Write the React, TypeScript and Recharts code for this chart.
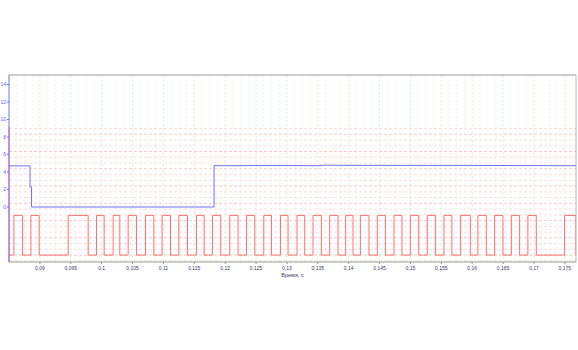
import React from 'react';
import { LineChart, Line, XAxis, YAxis, ReferenceLine } from 'recharts';

// Time axis (seconds) and its labelled ticks
const xDomain: [number, number] = [0.085, 0.1768];
const xTicks = [
  0.09, 0.095, 0.1, 0.105, 0.11, 0.115, 0.12, 0.125, 0.13,
  0.135, 0.14, 0.145, 0.15, 0.155, 0.16, 0.165, 0.17, 0.175,
];

// Blue channel (left axis, labelled)
const blueDomain: [number, number] = [-6.29, 15.09];
const blueTicks = [0, 2, 4, 6, 8, 10, 12, 14];
const blueTime = [0.085, 0.0884, 0.0884, 0.08865, 0.08865, 0.1182, 0.1182, 0.13, 0.135, 0.136, 0.14, 0.16, 0.1768];
const blueValue = [4.7, 4.7, 2.3, 2.3, 0, 0, 4.72, 4.74, 4.72, 4.78, 4.76, 4.75, 4.72];

// Red channel (no labels on its axis; units = one minor grid step)
const redDomain: [number, number] = [-0.2, 32.3];
const redAxisTop = 23.27;
const redGrid = Array.from({ length: 24 }, (_, i) => i);
// level changes: value holds from this time to the next one
const redTime = [
  0.085, 0.08579, 0.0872, 0.08854, 0.08989, 0.09458, 0.09782, 0.09917, 0.1004, 0.10186,
  0.10294, 0.10429, 0.10565, 0.1071, 0.10845, 0.10979, 0.11115, 0.11249, 0.1139, 0.11536,
  0.11659, 0.11794, 0.11929, 0.12074, 0.12209, 0.12345, 0.12479, 0.12625, 0.12749, 0.12895,
  0.13018, 0.13163, 0.13288, 0.13422, 0.13558, 0.13692, 0.13827, 0.13951, 0.1407, 0.14189,
  0.14328, 0.14464, 0.14594, 0.14733, 0.14862, 0.14998, 0.15133, 0.15273, 0.15403, 0.15542,
  0.15671, 0.15812, 0.15969, 0.16092, 0.16228, 0.16362, 0.16497, 0.16633, 0.16767, 0.16901,
  0.17037, 0.17495, 0.1768,
];
const redLow = 1.0;
const redHigh = 7.9;

const blueData = blueTime.map((t, i) => ({ t, v: blueValue[i] }));
const redData = redTime.map((t, i) => ({ t, v: i % 2 === 0 ? redLow : redHigh }));

// minor vertical grid every 1/4 of a labelled step
const xGrid: number[] = [];
for (let k = 1; xDomain[0] + k * 0.00125 < xDomain[1]; k++) {
  xGrid.push(+(xDomain[0] + k * 0.00125).toFixed(5));
}

const fmtTime = (t: number) => String(parseFloat(t.toFixed(3))).replace('.', ',');

const font = 'Liberation Sans, Arial, sans-serif';

export default function App() {
  return (
    <div style={{ position: 'absolute', left: 0, top: 0, background: '#fff' }}>
      <LineChart width={578} height={350} margin={{ top: 75, right: 2, left: 0, bottom: 72 }}>
        <XAxis
          xAxisId="t"
          dataKey="t"
          type="number"
          domain={xDomain}
          allowDataOverflow
          ticks={xTicks}
          tickFormatter={fmtTime}
          height={16}
          tickSize={2}
          tickMargin={2}
          stroke="#9a9a9a"
          tick={{ fontSize: 5, fill: '#3a3a5a', fontFamily: font }}
          label={{ value: 'Время, с', position: 'insideBottom', offset: 1, fontSize: 5.5, fill: '#3a3a5a', fontFamily: font }}
        />
        <YAxis
          yAxisId="blue"
          type="number"
          domain={blueDomain}
          allowDataOverflow
          ticks={blueTicks}
          width={9}
          tickSize={2}
          tickMargin={1}
          stroke="#7070ff"
          tick={{ fontSize: 5, fill: '#5b5bff', fontFamily: font }}
        />
        <YAxis yAxisId="red" type="number" domain={redDomain} allowDataOverflow hide />

        {xGrid.map((x, i) => (
          <ReferenceLine
            key={'vx' + i}
            xAxisId="t"
            yAxisId="blue"
            x={x}
            stroke={(i + 1) % 4 === 0 ? '#dcf1dc' : '#eef8ee'}
            strokeDasharray="2 2"
          />
        ))}
        {redGrid.map((v) => (
          <ReferenceLine
            key={'hr' + v}
            xAxisId="t"
            yAxisId="red"
            y={v}
            stroke={v % 3 === 1 ? '#f7caca' : '#fbdede'}
            strokeDasharray="3 2"
          />
        ))}
        <ReferenceLine xAxisId="t" yAxisId="blue" y={blueDomain[1]} stroke="#9a9a9a" />
        <ReferenceLine xAxisId="t" yAxisId="blue" x={xDomain[1]} stroke="#b8b8b8" />
        <ReferenceLine
          xAxisId="t"
          yAxisId="red"
          segment={[{ x: xDomain[0], y: redDomain[0] }, { x: xDomain[0], y: redAxisTop }]}
          stroke="#ff7a7a"
          ifOverflow="visible"
        />

        <Line
          xAxisId="t"
          yAxisId="red"
          data={redData}
          dataKey="v"
          type="stepAfter"
          stroke="#ff7070"
          strokeWidth={1}
          dot={false}
          isAnimationActive={false}
        />
        <Line
          xAxisId="t"
          yAxisId="blue"
          data={blueData}
          dataKey="v"
          type="linear"
          stroke="#7070f6"
          strokeWidth={1}
          dot={false}
          isAnimationActive={false}
        />
      </LineChart>
    </div>
  );
}
